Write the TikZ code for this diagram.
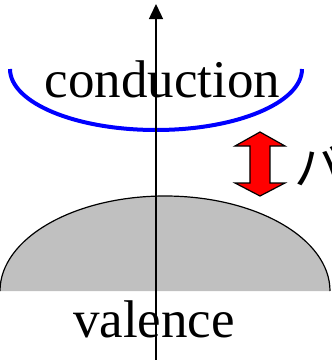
\documentclass[tikz,border=0pt]{standalone}
\usepackage{fontspec}
\setmainfont{Liberation Serif}
\newfontfamily\jpfont{Noto Sans CJK JP}
\usetikzlibrary{arrows.meta}
\definecolor{bandgray}{RGB}{192,192,192}
\tikzset{
  lbl/.style={font=\fontsize{53}{60}\selectfont, inner sep=0pt, anchor=base},
  axisline/.style={line width=1.4pt, -{Triangle[length=15pt,width=14pt]}},
  gaparrow/.style={draw=black, line width=1.2pt, fill=red, line join=miter}
}
\begin{document}
\begin{tikzpicture}[x=1pt,y=1pt]
\useasboundingbox (0,0) rectangle (332,360);
% valence band
\fill[bandgray] (0,69) arc[start angle=180,end angle=0,x radius=165,y radius=95] -- cycle;
\draw[line width=1.2pt] (0,69) arc[start angle=180,end angle=0,x radius=165,y radius=95];
% conduction band
\draw[blue, line width=4pt] (10,291) arc[start angle=180,end angle=360,x radius=146,y radius=61];
% texts
\node[lbl] (cond) at (162.5,263) {conduction};
\node[lbl] (val) at (154,23) {valence};
% axis
\coordinate (ax0) at (156,0);
\coordinate (ax1) at (156,356);
\draw[axisline] (ax0) -- (ax1);
% gap arrow
\draw[gaparrow] (260,228) -- (285,214) -- (270,214) -- (270,177) -- (285,177) -- (260,164)
  -- (235,177) -- (250,177) -- (250,214) -- (235,214) -- cycle;
\node[font=\jpfont\fontsize{50}{56}\selectfont, inner sep=0pt, anchor=base west] (gap) at (294,175) {バ};
\end{tikzpicture}
\end{document}
